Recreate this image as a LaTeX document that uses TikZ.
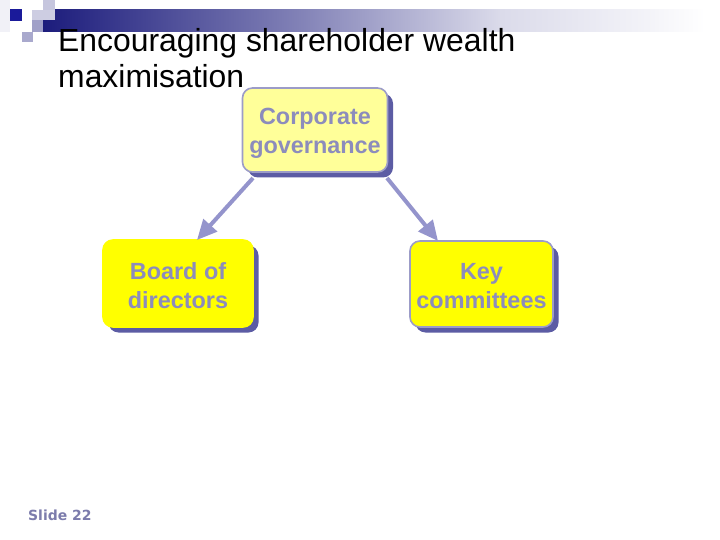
\documentclass[tikz,border=0pt]{standalone}
\usepackage{fontspec}
\setmainfont{Liberation Sans}
\newfontfamily\slidefont{DejaVu Sans}
\usetikzlibrary{arrows.meta,shadows}
\definecolor{boxlight}{HTML}{FFFF99}
\definecolor{boxyellow}{HTML}{FFFF00}
\definecolor{boxborder}{HTML}{9C9CC8}
\definecolor{boxshadow}{HTML}{5C5CA4}
\definecolor{boxtext}{HTML}{8C8CBC}
\definecolor{arrowc}{HTML}{9494CC}
\definecolor{navy}{HTML}{1C1C7C}
\definecolor{darksq}{HTML}{1A1A9A}
\definecolor{slidec}{HTML}{7C7CAC}
\newcommand{\twolines}[2]{\begin{tabular}[t]{@{}c@{}}#1\\#2\end{tabular}}
\tikzset{
  govbox/.style={rounded corners=10bp, line width=1.6bp,
    text=boxtext, font=\fontsize{23.5}{28.5}\selectfont\bfseries, inner sep=0pt,
    text height=0pt,
    drop shadow={shadow xshift=5.5bp, shadow yshift=-5.5bp, fill=boxshadow, opacity=1}},
  link/.style={draw=arrowc, line width=4bp, -{Triangle[length=20bp,width=18bp]}},
  title/.style={anchor=base west, font=\fontsize{32}{36}\selectfont, inner sep=0pt}
}
\begin{document}
\begin{tikzpicture}[x=1bp,y=-1bp]
\useasboundingbox (0,0) rectangle (720,540);
\fill[white] (0,0) rectangle (720,540);
% header decoration
\shade[left color=navy, right color=navy!55] (43,10) rectangle (300.5,32);
\shade[left color=navy!55, right color=navy!16] (300,10) rectangle (500.5,32);
\shade[left color=navy!16, right color=navy!5] (500,10) rectangle (650.5,32);
\shade[left color=navy!5, right color=white] (650,10) rectangle (705,32);
\fill[navy!6] (0,0) rectangle (10,32);
\fill[navy!25] (43,0) rectangle (55,10);
\fill[navy!22] (32,10) rectangle (55,20);
\fill[navy!42] (32,20) rectangle (43,32);
\fill[navy!38] (22,32) rectangle (33,42);
\fill[darksq] (10,9) rectangle (22,21);
% title
\node[title] (t1) at (58,52) {Encouraging shareholder wealth};
\node[title] (t2) at (58,88) {maximisation};
% boxes
\node[govbox, fill=boxlight, draw=boxborder, minimum width=145bp, minimum height=84bp, text depth=10bp] (cg) at (315,130) {\twolines{Corporate}{governance}};
\node[govbox, fill=boxyellow, draw=boxyellow, minimum width=150bp, minimum height=87bp, text depth=7bp] (bd) at (178,283.5) {\twolines{Board of}{directors}};
\node[govbox, fill=boxyellow, draw=boxborder, minimum width=143bp, minimum height=86bp, text depth=8bp] (kc) at (481.5,284) {\twolines{Key}{committees}};
% connectors
\coordinate (s1) at (253,178);
\coordinate (e1) at (197,240);
\coordinate (s2) at (387,178);
\coordinate (e2) at (438,241);
\draw[link] (s1) -- (e1);
\draw[link] (s2) -- (e2);
% footer
\node[anchor=base west, inner sep=0pt, text=slidec, font=\slidefont\fontsize{14}{16}\selectfont\bfseries] (slide) at (28,520) {Slide 22};
\end{tikzpicture}
\end{document}
